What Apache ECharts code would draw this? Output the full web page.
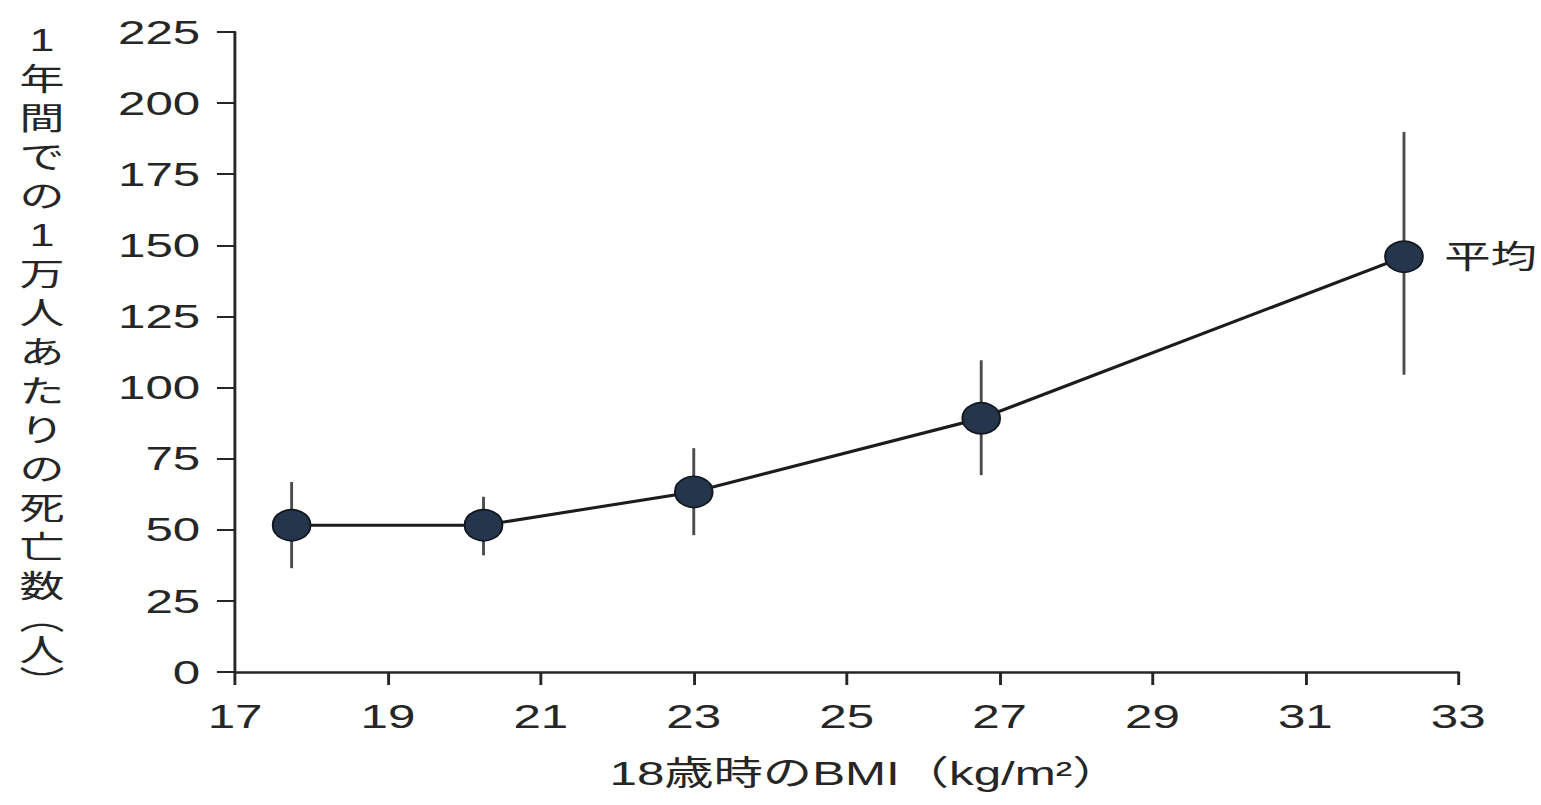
<!DOCTYPE html>
<html lang="ja">
<head>
<meta charset="utf-8">
<title>18歳時のBMIと死亡数</title>
<script src="https://cdn.jsdelivr.net/npm/echarts@6/dist/echarts.min.js"></script>
<style>
  html, body { margin: 0; padding: 0; background: #ffffff; overflow: hidden; }
  /* the figure is drawn with wide lettering: render narrower, then stretch horizontally */
  #chart {
    width: 1062.8px;
    height: 805px;
    transform: scaleX(1.45);
    transform-origin: 0 0;
  }
</style>
</head>
<body>
<div id="chart"></div>
<script>
// BMI at age 18 (group means) and deaths per 10,000 people per year
const bmi    = [17.74, 20.25, 23.0, 26.76, 32.29];
const deaths = [51.6, 51.6, 63.3, 89.2, 146.0];
const lower  = [36.5, 41.0, 48.1, 69.2, 104.5];
const upper  = [66.8, 61.6, 78.7, 109.6, 189.9];

const xTicks = [17, 19, 21, 23, 25, 27, 29, 31, 33];
const yTicks = [0, 25, 50, 75, 100, 125, 150, 175, 200, 225];

const xTitle = '18歳時のBMI（kg/m²）';
const yTitleChars = ['1', '年', '間', 'で', 'の', '1', '万', '人', 'あ', 'た', 'り', 'の', '死', '亡', '数'];
const yTitleUnit = ['︵', '人', '︶'];
const meanLabel = '平均';

const FONT = "'Liberation Sans', 'Noto Sans CJK JP', sans-serif";
const INK = '#262626';

const chart = echarts.init(document.getElementById('chart'), null, { renderer: 'svg' });

const pointData = bmi.map((x, i) => {
  const item = { value: [x, deaths[i]] };
  if (i === bmi.length - 1) {
    item.label = {
      show: true,
      position: 'right',
      distance: 14,
      formatter: meanLabel,
      fontSize: 32,
      fontFamily: FONT,
      color: INK
    };
  }
  return item;
});

const errorData = bmi.map((x, i) => [x, lower[i], upper[i]]);

const yTitleText = yTitleChars.join('\n') + '\n{p|' + yTitleUnit[0] + '}\n' +
  yTitleUnit[1] + '\n{p|' + yTitleUnit[2] + '}';

chart.setOption({
  backgroundColor: '#ffffff',
  animation: false,
  grid: { left: 162.1, right: 57.3, top: 32, bottom: 133 },
  xAxis: {
    type: 'value',
    min: xTicks[0],
    max: xTicks[xTicks.length - 1],
    interval: 1,
    splitLine: { show: false },
    axisLine: { show: true, onZero: false, lineStyle: { color: INK, width: 2.5 } },
    axisTick: { show: true, customValues: xTicks, length: 13, lineStyle: { color: INK, width: 2 } },
    axisLabel: {
      customValues: xTicks,
      margin: 27,
      fontSize: 34,
      fontFamily: FONT,
      color: INK
    },
    name: xTitle,
    nameLocation: 'middle',
    nameGap: 84,
    nameTextStyle: { fontSize: 34, fontFamily: FONT, color: INK, padding: [0, 0, 0, 26] }
  },
  yAxis: {
    type: 'value',
    min: yTicks[0],
    max: yTicks[yTicks.length - 1],
    interval: 25,
    splitLine: { show: false },
    axisLine: { show: true, lineStyle: { color: INK, width: 2 } },
    axisTick: { show: true, length: 12.5, lineStyle: { color: INK, width: 2 } },
    axisLabel: {
      margin: 24,
      fontSize: 34,
      fontFamily: FONT,
      color: INK
    }
  },
  graphic: [{
    type: 'text',
    left: 13.5,
    top: 21,
    style: {
      text: yTitleText,
      fontSize: 31,
      fontFamily: FONT,
      fill: INK,
      textAlign: 'center',
      lineHeight: 39,
      rich: {
        p: { fontSize: 31, fontFamily: FONT, lineHeight: 25, fill: INK }
      }
    }
  }],
  series: [
    {
      type: 'custom',
      name: 'range',
      z: 1,
      data: errorData,
      encode: { x: 0, y: [1, 2] },
      renderItem: function (params, api) {
        const x = api.value(0);
        const top = api.coord([x, api.value(2)]);
        const bottom = api.coord([x, api.value(1)]);
        return {
          type: 'line',
          shape: { x1: top[0], y1: top[1], x2: bottom[0], y2: bottom[1] },
          style: { stroke: '#4d4d4d', lineWidth: 2 }
        };
      }
    },
    {
      type: 'line',
      name: 'mean',
      z: 3,
      data: pointData,
      symbol: 'circle',
      symbolSize: [26, 31],
      lineStyle: { color: '#1c1c1c', width: 3 },
      itemStyle: { color: '#25354b', borderColor: '#121820', borderWidth: 1.5 }
    }
  ]
});
</script>
</body>
</html>
